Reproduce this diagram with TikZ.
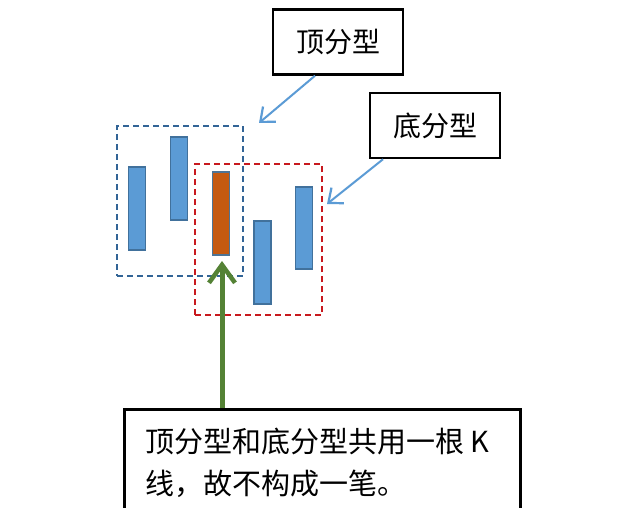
\documentclass[tikz,border=0pt]{standalone}
\usepackage{fontspec}
\setmainfont{Noto Sans CJK SC}
\newfontfamily\cjk{Noto Sans CJK SC}
\usetikzlibrary{arrows.meta}
\definecolor{candleblue}{RGB}{91,155,213}
\definecolor{candleedge}{RGB}{65,113,156}
\definecolor{candleorange}{RGB}{197,90,17}
\definecolor{dashblue}{RGB}{50,100,150}
\definecolor{dashred}{RGB}{200,25,30}
\definecolor{arrowblue}{RGB}{91,155,213}
\definecolor{arrowgreen}{RGB}{84,130,53}
\tikzset{
  labelbox/.style={draw=black, line width=2.5pt, fill=white, inner sep=0pt, font=\cjk\fontsize{28}{34}\selectfont},
  candle/.style={draw=candleedge, line width=1.5pt, fill=candleblue, inner sep=0pt, minimum width=17pt},
  dashbox/.style={line width=2pt, dash pattern=on 6pt off 4pt, inner sep=0pt},
  bluearrow/.style={draw=arrowblue, line width=2pt, -{Straight Barb[length=12pt,width=20pt,line width=2.2pt]}},
  greenarrow/.style={draw=arrowgreen, line width=5pt, -{Straight Barb[length=18pt,width=26pt,line width=4.5pt]}}
}
\begin{document}
\begin{tikzpicture}[x=1pt,y=-1pt]
\useasboundingbox[fill=white] (0,0) rectangle (640,508);
\clip (0,0) rectangle (640,508);
% dashed groups
\node[dashbox, draw=dashblue, minimum width=126pt, minimum height=150pt] (topgrp) at (180,201) {};
\node[dashbox, draw=dashred, minimum width=127pt, minimum height=151pt] (botgrp) at (258.5,239.5) {};
% candles
\node[candle, minimum height=83pt] (c1) at (137,208.5) {};
\node[candle, minimum height=83pt] (c2) at (179,178.5) {};
\node[candle, fill=candleorange, draw=candleedge!80!gray, minimum height=83pt] (c3) at (221,213.5) {};
\node[candle, minimum height=83pt] (c4) at (262.5,262.5) {};
\node[candle, minimum height=82pt] (c5) at (304,228) {};
% label boxes
\node[labelbox, minimum width=130pt, minimum height=65pt] (top) at (338,42) {顶分型};
\node[labelbox, minimum width=130pt, minimum height=65pt] (bot) at (435,125.5) {底分型};
% bottom note box
\node[labelbox, anchor=north west, minimum width=396pt, minimum height=110pt] (note) at (123,408) {};
\node[anchor=north west, inner sep=0pt, align=left, font=\cjk\fontsize{29}{42}\selectfont] (notetext) at (145,428) {顶分型和底分型共用一根 K\\线，故不构成一笔。};
% arrow targets
\coordinate (t1) at (259,123);
\coordinate (t2) at (327,204);
\coordinate (t3) at (222,261);
\draw[bluearrow] (top.south -| 315,0) -- (t1);
\draw[bluearrow] (bot.south -| 383,0) -- (t2);
\draw[greenarrow] (note.north -| 222,0) -- (t3);
\end{tikzpicture}
\end{document}
